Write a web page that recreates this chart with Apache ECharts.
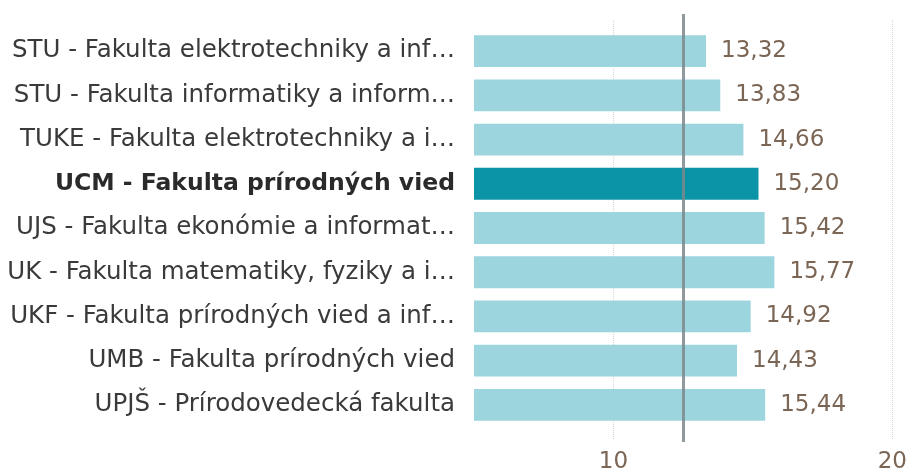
<!DOCTYPE html>
<html>
<head>
<meta charset="utf-8">
<script src="https://cdn.jsdelivr.net/npm/echarts@6/dist/echarts.min.js"></script>
<style>
  html, body { margin: 0; padding: 0; background: #fff; }
  #chart { width: 910px; height: 475px; }
</style>
</head>
<body>
<div id="chart"></div>
<script>
// fakulty (popisky tak, ako su zobrazene v grafe)
var categories = [
  'STU - Fakulta elektrotechniky a inf…',
  'STU - Fakulta informatiky a inform…',
  'TUKE - Fakulta elektrotechniky a i…',
  'UCM - Fakulta prírodných vied',
  'UJS - Fakulta ekonómie a informat…',
  'UK - Fakulta matematiky, fyziky a i…',
  'UKF - Fakulta prírodných vied a inf…',
  'UMB - Fakulta prírodných vied',
  'UPJŠ - Prírodovedecká fakulta'
];
var values = [13.32, 13.83, 14.66, 15.20, 15.42, 15.77, 14.92, 14.43, 15.44];
var highlight = 'UCM - Fakulta prírodných vied';
var referenceValue = 12.5;
var gridValues = [10, 20];
var tickLabels = [10, 20];

var FONT = 'DejaVu Sans';
var CAT_SIZE = 24.5;
var BOLD_SIZE = 23.5;
var VAL_SIZE = 23;
var LABEL_COLOR = '#7b6656';

var myChart = echarts.init(document.getElementById('chart'));

var barData = values.map(function (v, i) {
  return {
    value: v,
    itemStyle: { color: categories[i] === highlight ? '#0b94a8' : '#9dd5df' }
  };
});

// bodkovane ciary mriezky
var gridLines = gridValues.map(function (g) {
  return [{ xAxis: g, y: 20 }, { xAxis: g, y: 440 }];
});

myChart.setOption({
  animation: false,
  grid: { left: 474, right: 17, top: 29, bottom: 48, containLabel: false },
  xAxis: {
    type: 'value',
    min: 5,
    max: 20,
    interval: 5,
    axisLine: { show: false },
    axisTick: { show: false },
    splitLine: { show: false },
    axisLabel: {
      margin: 24,
      color: LABEL_COLOR,
      fontFamily: FONT,
      fontSize: VAL_SIZE,
      formatter: function (v) {
        return tickLabels.indexOf(v) >= 0 ? String(v) : '';
      }
    }
  },
  yAxis: {
    type: 'category',
    inverse: true,
    data: categories,
    axisLine: { show: false },
    axisTick: { show: false },
    axisLabel: {
      margin: 19,
      color: '#3a3a3a',
      fontFamily: FONT,
      fontSize: CAT_SIZE,
      formatter: function (v) {
        return v === highlight ? '{b|' + v + '}' : v;
      },
      rich: {
        b: { fontWeight: 'bold', color: '#2a2a2a', fontFamily: FONT, fontSize: BOLD_SIZE }
      }
    }
  },
  series: [
    {
      type: 'line',
      data: [],
      z: 1,
      silent: true,
      markLine: {
        z: 1,
        silent: true,
        symbol: 'none',
        label: { show: false },
        lineStyle: { type: 'dotted', color: '#d6d6d6', width: 1 },
        data: gridLines
      }
    },
    {
      type: 'bar',
      data: barData,
      z: 2,
      barCategoryGap: '28%',
      label: {
        show: true,
        position: 'right',
        distance: 15,
        color: LABEL_COLOR,
        fontFamily: FONT,
        fontSize: VAL_SIZE,
        formatter: function (p) {
          return p.value.toFixed(2).replace('.', ',');
        }
      }
    },
    {
      type: 'line',
      data: [],
      z: 5,
      silent: true,
      markLine: {
        z: 5,
        silent: true,
        symbol: 'none',
        label: { show: false },
        lineStyle: { type: 'solid', color: '#7d888c', width: 3, opacity: 0.85 },
        data: [[{ xAxis: referenceValue, y: 14 }, { xAxis: referenceValue, y: 442 }]]
      }
    }
  ]
});
</script>
</body>
</html>
